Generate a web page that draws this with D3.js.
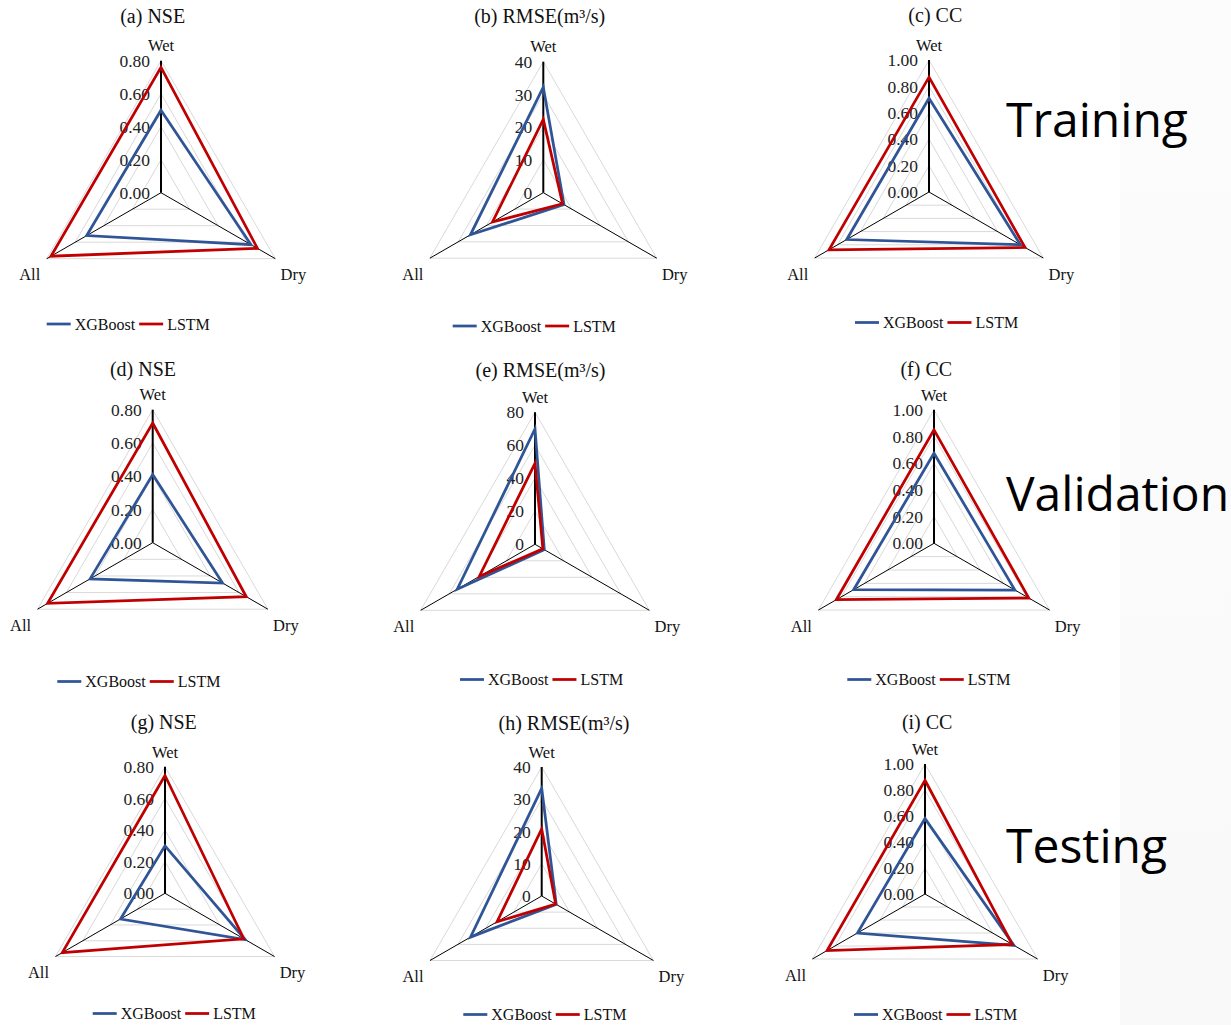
<!DOCTYPE html>
<html>
<head>
<meta charset="utf-8">
<script src="https://cdn.jsdelivr.net/npm/d3@7"></script>
<style>
  body { margin: 0; background: #fff; }
  svg { display: block; }
</style>
</head>
<body>
<svg id="chart" width="1231" height="1025"></svg>
<script>
// ---- data ----
const categories = ["Wet", "Dry", "All"];
const seriesNames = ["XGBoost", "LSTM"];
const panelTitles = [
  "(a) NSE", "(b) RMSE(m³/s)", "(c) CC",
  "(d) NSE", "(e) RMSE(m³/s)", "(f) CC",
  "(g) NSE", "(h) RMSE(m³/s)", "(i) CC"
];
const axisMax = [0.8, 40, 1, 0.8, 80, 1, 0.8, 40, 1];
const tickLabels = [
  ["0.00", "0.20", "0.40", "0.60", "0.80"],
  ["0", "10", "20", "30", "40"],
  ["0.00", "0.20", "0.40", "0.60", "0.80", "1.00"],
  ["0.00", "0.20", "0.40", "0.60", "0.80"],
  ["0", "20", "40", "60", "80"],
  ["0.00", "0.20", "0.40", "0.60", "0.80", "1.00"],
  ["0.00", "0.20", "0.40", "0.60", "0.80"],
  ["0", "10", "20", "30", "40"],
  ["0.00", "0.20", "0.40", "0.60", "0.80", "1.00"]
];
// values per panel, ordered Wet, Dry, All
const xgboostValues = [
  [0.50, 0.63, 0.52],
  [32.2, 7.3, 25.7],
  [0.71, 0.80, 0.72],
  [0.41, 0.485, 0.435],
  [69.9, 6.5, 54.4],
  [0.675, 0.70, 0.695],
  [0.30, 0.585, 0.325],
  [33.4, 5.2, 25.5],
  [0.58, 0.79, 0.60]
];
const lstmValues = [
  [0.76, 0.675, 0.77],
  [22.4, 6.8, 17.9],
  [0.87, 0.84, 0.875],
  [0.72, 0.65, 0.73],
  [49.1, 5.5, 39.0],
  [0.85, 0.82, 0.845],
  [0.745, 0.575, 0.75],
  [20.8, 5.0, 16.0],
  [0.875, 0.775, 0.87]
];
const stageLabels = ["Training", "Validation", "Testing"];

// ---- layout ----
const layout = [
  { cx: 161,   cy: 192.7, r: 132,   tx: 152.7, ty: 16,  lx: 46.7,  ly: 324 },
  { cx: 543.3, cy: 192.7, r: 131,   tx: 539.7, ty: 16,  lx: 452.7, ly: 326 },
  { cx: 929,   cy: 192,   r: 132,   tx: 935.3, ty: 15,  lx: 855,   ly: 322.5 },
  { cx: 152.7, cy: 542.7, r: 133,   tx: 143,   ty: 369, lx: 57.3,  ly: 681.5 },
  { cx: 535,   cy: 544.3, r: 132,   tx: 540.5, ty: 370, lx: 460,   ly: 679.5 },
  { cx: 934,   cy: 543.3, r: 133.5, tx: 926.3, ty: 369, lx: 847.3, ly: 679.5 },
  { cx: 165,   cy: 893.3, r: 126.5, tx: 163.8, ty: 722, lx: 92.7,  ly: 1013.5 },
  { cx: 541.7, cy: 896,   r: 129,   tx: 564,   ty: 723, lx: 463.3, ly: 1014.5 },
  { cx: 925,   cy: 894,   r: 130,   tx: 927.2, ty: 722, lx: 854,   ly: 1014.5 }
];
const stageLayout = [
  { x: 1006, y: 137 },
  { x: 1006, y: 510.5 },
  { x: 1006, y: 863 }
];
const colors = { XGBoost: "#2f5597", LSTM: "#c00000" };
const serif = "'Liberation Serif', 'Times New Roman', serif";

const svg = d3.select("#chart");

// very faint shaded strip along the right edge
const grad = svg.append("defs").append("linearGradient")
  .attr("id", "edgeShade").attr("x1", 0).attr("x2", 0).attr("y1", 0).attr("y2", 1);
grad.append("stop").attr("offset", "0%").attr("stop-color", "#fcfcfc");
grad.append("stop").attr("offset", "100%").attr("stop-color", "#f9f9f9");
svg.append("rect").attr("x", 1120).attr("y", 0).attr("width", 111).attr("height", 1025)
  .attr("fill", "url(#edgeShade)");

const step = 2 * Math.PI / categories.length;

panelTitles.forEach((title, p) => {
  const L = layout[p];
  const g = svg.append("g").attr("transform", `translate(${L.cx},${L.cy})`);
  const rScale = d3.scaleLinear().domain([0, axisMax[p]]).range([0, L.r]);
  const ticks = tickLabels[p].map(Number);

  const radial = d3.lineRadial()
    .angle((d, i) => i * step)
    .radius(d => rScale(d))
    .curve(d3.curveLinearClosed);

  const vertex = (v, i) => {
    const a = i * step;
    return [rScale(v) * Math.sin(a), -rScale(v) * Math.cos(a)];
  };

  // grid polygons
  g.selectAll("path.grid")
    .data(ticks.filter(t => t > 0))
    .join("path")
    .attr("class", "grid")
    .attr("d", t => radial(categories.map(() => t)))
    .attr("fill", "none")
    .attr("stroke", "#d9d9d9")
    .attr("stroke-width", 1);

  // spokes
  categories.forEach((c, i) => {
    const [x, y] = vertex(axisMax[p], i);
    g.append("line")
      .attr("x1", 0).attr("y1", 0).attr("x2", x).attr("y2", y)
      .attr("stroke", "#000")
      .attr("stroke-width", i === 0 ? 2 : 1);
  });

  // tick labels along the Wet axis
  g.selectAll("text.tick")
    .data(tickLabels[p])
    .join("text")
    .attr("class", "tick")
    .attr("x", -11)
    .attr("y", d => -rScale(+d))
    .attr("dy", "0.35em")
    .attr("text-anchor", "end")
    .attr("font-family", serif)
    .attr("font-size", 17.5)
    .attr("fill", "#222")
    .text(d => d);

  // category labels
  categories.forEach((c, i) => {
    const [x, y] = vertex(axisMax[p], i);
    const off = i === 0 ? [0, -15] : (i === 1 ? [18, 16] : [-17, 16]);
    g.append("text")
      .attr("x", x + off[0]).attr("y", y + off[1])
      .attr("dy", "0.35em")
      .attr("text-anchor", "middle")
      .attr("font-family", serif)
      .attr("font-size", 16.5)
      .attr("fill", "#111")
      .text(c);
  });

  // series polygons
  const series = [
    { name: seriesNames[0], values: xgboostValues[p] },
    { name: seriesNames[1], values: lstmValues[p] }
  ];
  g.selectAll("path.series")
    .data(series)
    .join("path")
    .attr("class", "series")
    .attr("d", s => radial(s.values))
    .attr("fill", "none")
    .attr("stroke", s => colors[s.name])
    .attr("stroke-width", 2.75)
    .attr("stroke-linejoin", "miter");

  // title
  svg.append("text")
    .attr("x", L.tx).attr("y", L.ty)
    .attr("dy", "0.35em")
    .attr("text-anchor", "middle")
    .attr("font-family", serif)
    .attr("font-size", 20)
    .attr("fill", "#111")
    .text(title);

  // legend
  const lg = svg.append("g").attr("transform", `translate(${L.lx},${L.ly})`);
  let x = 0;
  seriesNames.forEach((name, k) => {
    lg.append("line")
      .attr("x1", x).attr("x2", x + 24).attr("y1", 0).attr("y2", 0)
      .attr("stroke", colors[name]).attr("stroke-width", 2.75);
    const t = lg.append("text")
      .attr("x", x + 28).attr("y", 0).attr("dy", "0.35em")
      .attr("font-family", serif)
      .attr("font-size", 16)
      .attr("fill", "#111")
      .text(name);
    x += 28 + t.node().getComputedTextLength() + 4;
  });
});

// stage labels
stageLabels.forEach((s, i) => {
  svg.append("text")
    .attr("x", stageLayout[i].x).attr("y", stageLayout[i].y)
    .attr("font-family", "'Open Sans', 'Noto Sans', sans-serif")
    .attr("font-size", 48)
    .attr("fill", "#000")
    .text(s);
});
</script>
</body>
</html>
